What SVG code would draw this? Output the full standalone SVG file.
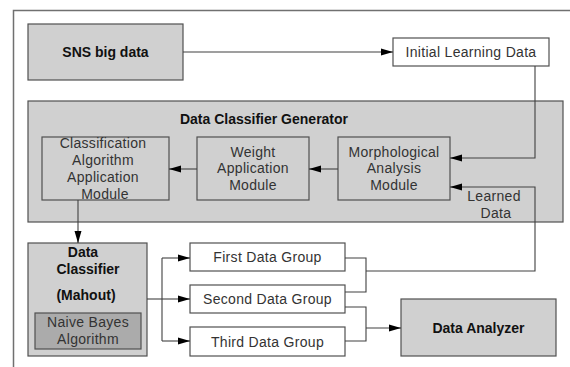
<svg xmlns="http://www.w3.org/2000/svg" width="570" height="367" viewBox="0 0 570 367">
  <defs>
    <marker id="arrow" markerUnits="userSpaceOnUse" markerWidth="12" markerHeight="8" refX="12" refY="4" orient="auto">
      <path d="M0,0.5 L12,4 L0,7.5 z" fill="#000"/>
    </marker>
    <style>
      .frame { fill: none; stroke: #707070; stroke-width: 1.5; }
      .box { stroke: #505050; stroke-width: 1.2; }
      .gray { fill: #d0d0d0; }
      .dark { fill: #ababab; }
      .white { fill: #ffffff; }
      .t { font-family: "Liberation Sans", Arial, sans-serif; font-size: 14px; fill: #333; text-anchor: middle; letter-spacing: 0.3px; }
      .b { font-family: "Liberation Sans", Arial, sans-serif; font-size: 14px; font-weight: bold; fill: #111; text-anchor: middle; }
      .conn path { fill: none; stroke: #404040; stroke-width: 1.1; }
    </style>
  </defs>

  <rect width="570" height="367" fill="#ffffff"/>

  <!-- outer frame -->
  <path class="frame" d="M13.5,367 V10.5 H570"/>

  <g id="sns-big-data">
    <rect class="box gray" x="28" y="24" width="155" height="56"/>
    <text class="b" x="105.5" y="57">SNS big data</text>
  </g>

  <g id="initial-learning-data">
    <rect class="box white" x="393" y="38" width="156" height="28"/>
    <text class="t" x="471" y="57">Initial Learning Data</text>
  </g>

  <g id="data-classifier-generator">
    <rect class="box gray" x="28" y="101" width="535" height="121"/>
    <text class="b" x="264" y="124">Data Classifier Generator</text>
  </g>

  <g id="classification-module">
    <rect class="box gray" x="42" y="137" width="127" height="63"/>
    <text class="t" x="103" y="148">Classification</text>
    <text class="t" x="103" y="165">Algorithm</text>
    <text class="t" x="103" y="182">Application</text>
    <text class="t" x="105" y="199">Module</text>
  </g>

  <g id="weight-module">
    <rect class="box gray" x="197" y="137" width="112" height="63"/>
    <text class="t" x="253" y="157">Weight</text>
    <text class="t" x="253" y="173">Application</text>
    <text class="t" x="253" y="190">Module</text>
  </g>

  <g id="morphological-module">
    <rect class="box gray" x="338" y="137" width="112" height="63"/>
    <text class="t" x="394" y="157">Morphological</text>
    <text class="t" x="394" y="173">Analysis</text>
    <text class="t" x="394" y="190">Module</text>
  </g>

  <g id="learned-data-label">
    <text class="t" x="494" y="201">Learned</text>
    <text class="t" x="496" y="218">Data</text>
  </g>

  <g id="data-classifier">
    <rect class="box gray" x="28" y="243" width="119" height="113"/>
    <text class="b" x="83" y="257">Data</text>
    <text class="b" x="88" y="274">Classifier</text>
    <text class="b" x="86" y="300">(Mahout)</text>
    <rect class="box dark" x="35" y="313" width="106" height="36"/>
    <text class="t" x="88" y="327">Naive Bayes</text>
    <text class="t" x="88" y="344">Algorithm</text>
  </g>

  <g id="first-data-group">
    <rect class="box white" x="190" y="243" width="155" height="28"/>
    <text class="t" x="267.5" y="262">First Data Group</text>
  </g>

  <g id="second-data-group">
    <rect class="box white" x="190" y="285" width="155" height="28"/>
    <text class="t" x="267.5" y="304">Second Data Group</text>
  </g>

  <g id="third-data-group">
    <rect class="box white" x="190" y="327" width="155" height="29"/>
    <text class="t" x="267.5" y="347">Third Data Group</text>
  </g>

  <g id="data-analyzer">
    <rect class="box gray" x="401" y="299" width="155" height="57"/>
    <text class="b" x="478.5" y="333">Data Analyzer</text>
  </g>

  <g class="conn" id="connectors">
    <path d="M183,52 H393" marker-end="url(#arrow)"/>
    <path d="M535,66 V158 H450" marker-end="url(#arrow)"/>
    <path d="M338,169 H309" marker-end="url(#arrow)"/>
    <path d="M197,169 H169" marker-end="url(#arrow)"/>
    <path d="M78,200 V243" marker-end="url(#arrow)"/>
    <path d="M147,299 H162"/>
    <path d="M162,258 V341"/>
    <path d="M162,258 H190" marker-end="url(#arrow)"/>
    <path d="M162,299 H190" marker-end="url(#arrow)"/>
    <path d="M162,341 H190" marker-end="url(#arrow)"/>
    <path d="M345,258 H366 V292 H345"/>
    <path d="M366,271 H535 V187 H450" marker-end="url(#arrow)"/>
    <path d="M345,307 H366 V341 H345"/>
    <path d="M366,328 H401" marker-end="url(#arrow)"/>
  </g>
</svg>
